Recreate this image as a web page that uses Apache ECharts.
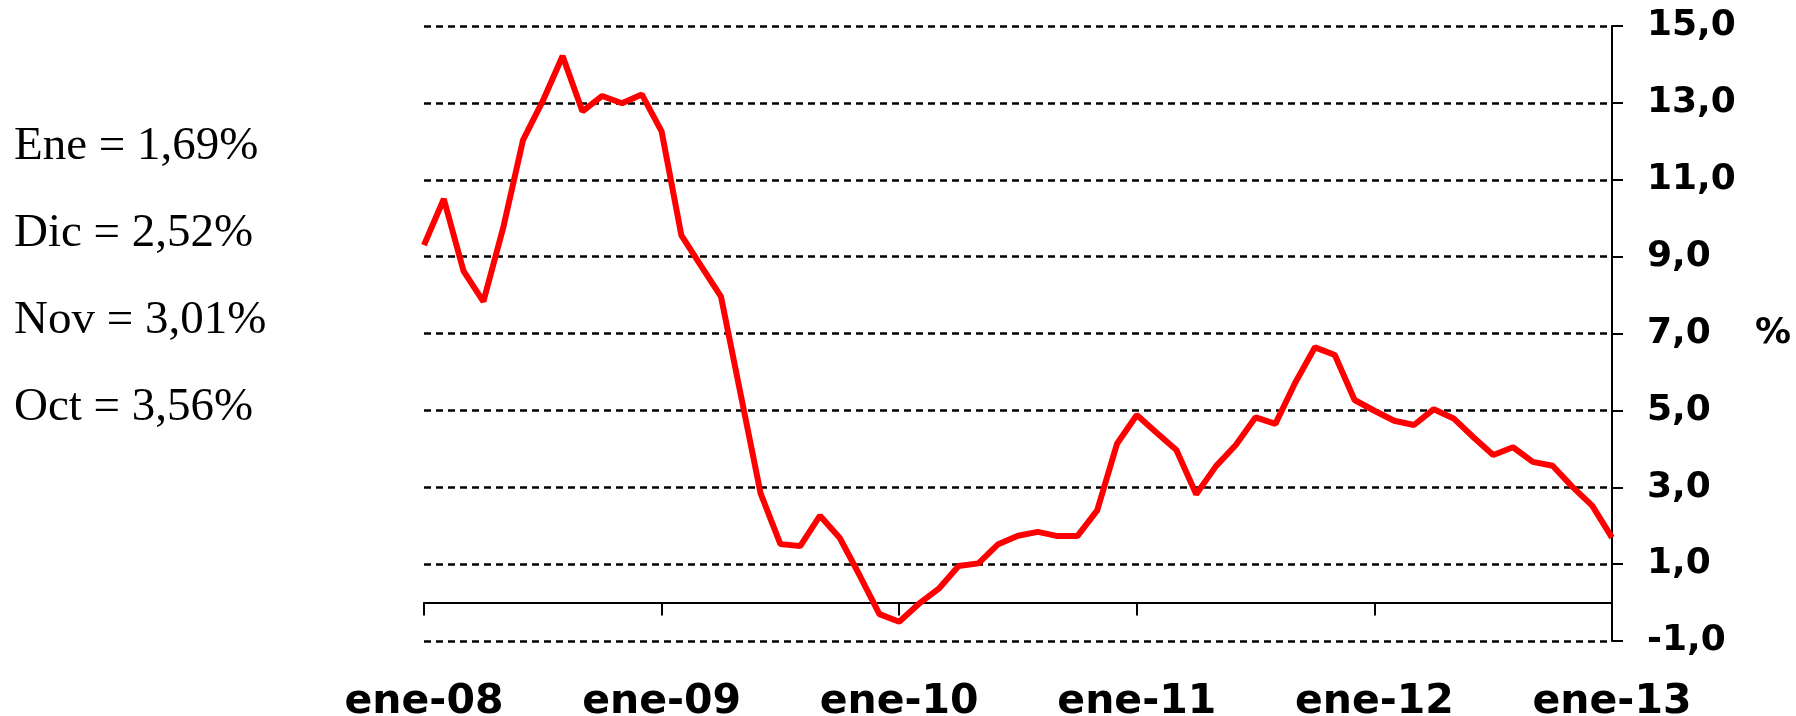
<!DOCTYPE html>
<html>
<head>
<meta charset="utf-8">
<title>Inflación</title>
<script src="https://cdn.jsdelivr.net/npm/echarts@6/dist/echarts.min.js"></script>
<style>
  html, body { margin: 0; padding: 0; background: #fff; }
  #chart { width: 1796px; height: 716px; }
</style>
</head>
<body>
<div id="chart"></div>
<script>
// meses (ene-08 ... ene-13)
const months = [
  'ene-08', 'feb-08', 'mar-08', 'abr-08', 'may-08', 'jun-08', 'jul-08', 'ago-08', 'sep-08', 'oct-08', 'nov-08', 'dic-08',
  'ene-09', 'feb-09', 'mar-09', 'abr-09', 'may-09', 'jun-09', 'jul-09', 'ago-09', 'sep-09', 'oct-09', 'nov-09', 'dic-09',
  'ene-10', 'feb-10', 'mar-10', 'abr-10', 'may-10', 'jun-10', 'jul-10', 'ago-10', 'sep-10', 'oct-10', 'nov-10', 'dic-10',
  'ene-11', 'feb-11', 'mar-11', 'abr-11', 'may-11', 'jun-11', 'jul-11', 'ago-11', 'sep-11', 'oct-11', 'nov-11', 'dic-11',
  'ene-12', 'feb-12', 'mar-12', 'abr-12', 'may-12', 'jun-12', 'jul-12', 'ago-12', 'sep-12', 'oct-12', 'nov-12', 'dic-12',
  'ene-13'
]

// variación anual (%)
const rates = [
  9.3, 10.5, 8.62, 7.83, 9.75, 12.03, 13.05, 14.22, 12.78, 13.18, 12.99, 13.22,
  12.26, 9.55, 8.75, 7.96, 5.4, 2.84, 1.52, 1.47, 2.26, 1.68, 0.71, -0.3,
  -0.5, -0.03, 0.36, 0.95, 1.02, 1.52, 1.74, 1.84, 1.73, 1.73, 2.4, 4.13,
  4.88, 4.42, 3.97, 2.82, 3.55, 4.1, 4.82, 4.65, 5.72, 6.64, 6.44, 5.27,
  4.99, 4.73, 4.62, 5.03, 4.79, 4.3, 3.84, 4.04, 3.66, 3.56, 3.01, 2.52,
  1.69
]

// ticks del eje
const yTicks = { min: -1, max: 15, step: 2 }

// notas a la izquierda
const notes = ['Ene = 1,69%', 'Dic = 2,52%', 'Nov = 3,01%', 'Oct = 3,56%']

const labelFont = 'DejaVu Sans'
const chart = echarts.init(document.getElementById('chart'))

chart.setOption({
  animation: false,
  grid: {
    left: 424,
    right: 184,
    top: 26,
    bottom: 75,
    containLabel: false,
    outerBoundsMode: 'none'
  },
  graphic: notes.map((text, i) => ({
    type: 'text',
    left: 14,
    top: 123 + i * 87,
    style: {
      text: text,
      fill: '#000',
      font: '47px "Liberation Serif"'
    }
  })),
  xAxis: {
    type: 'category',
    data: months,
    boundaryGap: false,
    axisLine: {
      onZero: true,
      lineStyle: { color: '#000', width: 2 }
    },
    axisTick: {
      length: 13,
      interval: idx => idx % 12 === 0,
      lineStyle: { color: '#000', width: 2 }
    },
    axisLabel: {
      interval: idx => idx % 12 === 0,
      margin: 41,
      color: '#000',
      fontFamily: labelFont,
      fontWeight: 'bold',
      fontSize: 41
    },
    splitLine: { show: false }
  },
  yAxis: {
    type: 'value',
    position: 'right',
    min: yTicks.min,
    max: yTicks.max,
    interval: yTicks.step,
    name: '%',
    nameLocation: 'middle',
    nameRotate: 0,
    nameGap: 143,
    nameTextStyle: {
      color: '#000',
      fontFamily: labelFont,
      fontWeight: 'bold',
      fontSize: 36,
      align: 'left'
    },
    axisLine: {
      show: true,
      lineStyle: { color: '#000', width: 2 }
    },
    axisTick: {
      show: true,
      length: 11,
      lineStyle: { color: '#000', width: 2 }
    },
    axisLabel: {
      margin: 35,
      color: '#000',
      fontFamily: labelFont,
      fontWeight: 'bold',
      fontSize: 36,
      formatter: v => v.toFixed(1).replace('.', ',')
    },
    splitLine: {
      show: true,
      lineStyle: { color: '#000', width: 2.6, type: [7, 5] }
    }
  },
  series: [
    {
      type: 'line',
      data: rates,
      symbol: 'none',
      lineStyle: { color: '#ff0000', width: 6 },
      itemStyle: { color: '#ff0000' }
    }
  ]
})
</script>
</body>
</html>
